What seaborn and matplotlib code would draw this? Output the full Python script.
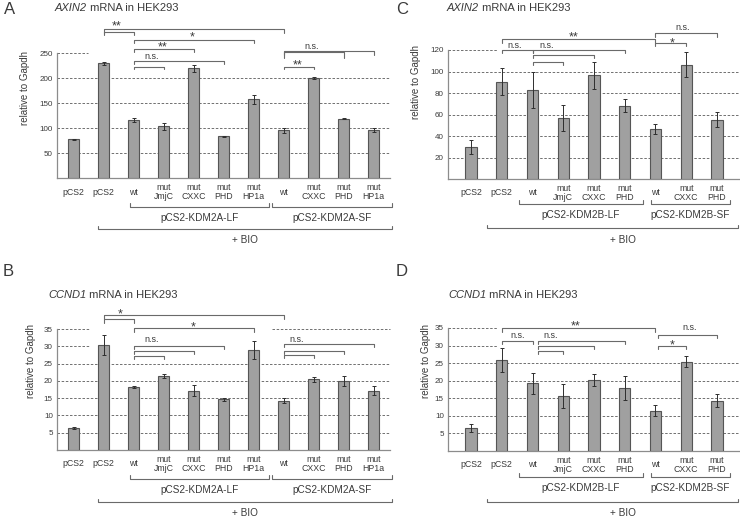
import numpy as np
import pandas as pd
import matplotlib
matplotlib.use("Agg")
import matplotlib.pyplot as plt
import seaborn as sns

sns.set_theme(style="white")
plt.rcParams['font.family'] = ['Liberation Sans', 'DejaVu Sans']

# ---------------- data ----------------
kdm2a_conditions = ["pCS2", "pCS2 +BIO", "LF wt", "LF mut JmjC", "LF mut CXXC", "LF mut PHD",
                    "LF mut HP1a", "SF wt", "SF mut CXXC", "SF mut PHD", "SF mut HP1a"]
kdm2a_ticklabels = ["pCS2", "pCS2", "wt", "mut\nJmjC", "mut\nCXXC", "mut\nPHD", "mut\nHP1a",
                    "wt", "mut\nCXXC", "mut\nPHD", "mut\nHP1a"]
axin2_kdm2a = [78, 230, 116, 104, 220, 84, 158, 96, 200, 119, 97]
axin2_kdm2a_err = [1, 3, 4, 7, 7, 1, 9, 5, 2, 1, 4]
ccnd1_kdm2a = [6.4, 30.4, 18.1, 21.4, 17.2, 14.7, 28.9, 14.2, 20.4, 20.0, 17.2]
ccnd1_kdm2a_err = [0.3, 2.8, 0.3, 0.6, 1.7, 0.4, 2.6, 0.7, 0.8, 1.5, 1.3]

kdm2b_conditions = ["pCS2", "pCS2 +BIO", "LF wt", "LF mut JmjC", "LF mut CXXC", "LF mut PHD",
                    "SF wt", "SF mut CXXC", "SF mut PHD"]
kdm2b_ticklabels = ["pCS2", "pCS2", "wt", "mut\nJmjC", "mut\nCXXC", "mut\nPHD",
                    "wt", "mut\nCXXC", "mut\nPHD"]
axin2_kdm2b = [30, 90.5, 83, 56.5, 96.5, 68, 46.5, 106.5, 55]
axin2_kdm2b_err = [6.5, 12.5, 17, 12, 12.5, 6, 4.5, 12, 7]
ccnd1_kdm2b = [6.5, 25.9, 19.3, 15.6, 20.2, 17.8, 11.5, 25.4, 14.3]
ccnd1_kdm2b_err = [1.2, 3.5, 3.0, 3.5, 1.8, 3.4, 1.6, 1.5, 1.9]

yticks_axin2_a = [50, 100, 150, 200, 250]
yticks_axin2_b = [20, 40, 60, 80, 100, 120]
yticks_ccnd1 = [5, 10, 15, 20, 25, 30, 35]

# ---------------- style ----------------
TEXT = '#3a3a3a'
BAR = '#a0a0a0'
EDGE = '#555555'
GRID = '#5a5a5a'
SPINE = '#8c8c8c'
BRK = '#6a6a6a'

W, H = 740, 517
fig = plt.figure(figsize=(W / 100, H / 100), dpi=100)


def axes_px(left, top, right, bottom):
    ax = fig.add_axes([left / W, 1 - bottom / H, (right - left) / W, (bottom - top) / H])
    ax._px = (left, top, right, bottom)
    return ax


def draw_panel(ax, conds, ticklabels, vals, errs, yticks, ymax, xpad, top_segments,
               ylab_dx, ylab_cy, tickpad):
    df = pd.DataFrame({"condition": conds, "value": vals})
    sns.barplot(data=df, x="condition", y="value", order=conds, ax=ax, width=0.37,
                color=BAR, saturation=1, edgecolor=EDGE, linewidth=0.8, errorbar=None, zorder=3)
    ax.errorbar(np.arange(len(conds)), vals, yerr=errs, fmt='none', ecolor='#2e2e2e',
                elinewidth=0.7, capsize=1.6, capthick=0.7, zorder=4)
    n = len(conds)
    ax.set_xlim(-xpad, n - 1 + xpad)
    ax.set_ylim(0, ymax)
    # dashed grid lines
    for yv in yticks:
        segs = top_segments.get(yv, [(0, 1)])
        for a, b in segs:
            ax.plot([a, b], [yv, yv], transform=ax.get_yaxis_transform(), color=GRID,
                    lw=0.6, ls=(0, (3, 2)), zorder=1, clip_on=False)
    for s in ['top', 'right']:
        ax.spines[s].set_visible(False)
    for s in ['left', 'bottom']:
        ax.spines[s].set_color(SPINE)
        ax.spines[s].set_linewidth(0.9)
    ax.set_yticks(yticks)
    ax.set_yticklabels([str(t) for t in yticks], fontsize=5.8, color=TEXT)
    ax.tick_params(axis='y', length=0, pad=3)
    ax.set_xticks(range(n))
    ax.set_xticklabels(ticklabels, fontsize=6.3, color=TEXT, linespacing=1.05, va='center')
    ax.tick_params(axis='x', length=0, pad=tickpad)
    ax.set_xlabel('')
    ax.set_ylabel('relative to Gapdh', fontsize=7, color=TEXT)
    l, t, r, b = ax._px
    ax.yaxis.set_label_coords(ylab_dx / (r - l), (b - ylab_cy) / (b - t))


def ya(ax, dy):
    """pixel offset above top of axes -> axes fraction"""
    l, t, r, b = ax._px
    return 1 + dy / (b - t)


def yb(ax, dy):
    """pixel offset below the bottom of axes -> axes fraction"""
    l, t, r, b = ax._px
    return -dy / (b - t)


def bracket(ax, x1, x2, y, dl, dr):
    tr = ax.get_xaxis_transform()
    ax.plot([x1, x1, x2, x2], [ya(ax, y - dl), ya(ax, y), ya(ax, y), ya(ax, y - dr)],
            transform=tr, color=BRK, lw=0.8, clip_on=False, zorder=5)


def sig(ax, x, y, s):
    fs = 9 if '*' in s else 6.5
    ax.text(x, ya(ax, y), s, transform=ax.get_xaxis_transform(), ha='center', va='baseline',
            fontsize=fs, color=TEXT, clip_on=False)


def group(ax, x1, x2, dy, tick, label, ldy, lx=None, fs=7.2):
    tr = ax.get_xaxis_transform()
    ax.plot([x1, x1, x2, x2], [yb(ax, dy - tick), yb(ax, dy), yb(ax, dy), yb(ax, dy - tick)],
            transform=tr, color=BRK, lw=0.8, clip_on=False)
    if lx is None:
        lx = (x1 + x2) / 2
    ax.text(lx, yb(ax, ldy), label, transform=tr, ha='center', va='center', fontsize=fs,
            color=TEXT, clip_on=False)


# ---------------- panel A ----------------
axA = axes_px(57, 53, 390, 178.3)
draw_panel(axA, kdm2a_conditions, kdm2a_ticklabels, axin2_kdm2a, axin2_kdm2a_err,
           yticks_axin2_a, 250, 0.55, {250: [(0, 31 / 333)]}, -27, 88, 10)
bracket(axA, 1, 7, 24, 4, 4)
bracket(axA, 1, 2, 21, 3, 3)
sig(axA, 1.45, 24, "**")
bracket(axA, 2, 6, 13, 3, 3)
sig(axA, 3.95, 13, "*")
bracket(axA, 2, 4, 4, 3, 3)
sig(axA, 2.98, 3, "**")
bracket(axA, 2, 5, -8, 3, 3)
bracket(axA, 2, 3, -14, 2, 2)
sig(axA, 2.62, -5.5, "n.s.")
bracket(axA, 7, 10, 2, 4, 4)
bracket(axA, 7, 9, 1, 6, 6)
sig(axA, 7.95, 4.5, "n.s.")
bracket(axA, 7, 8, -14, 2, 2)
sig(axA, 7.48, -15, "**")
group(axA, 1.88, 6.52, 28.7, 4, "pCS2-KDM2A-LF", 40)
group(axA, 6.62, 10.6, 28.7, 4, "pCS2-KDM2A-SF", 40)
group(axA, 0.82, 10.6, 51, 3, "+ BIO", 62)

# ---------------- panel B ----------------
axB = axes_px(57, 329, 390, 450)
draw_panel(axB, kdm2a_conditions, kdm2a_ticklabels, ccnd1_kdm2a, ccnd1_kdm2a_err,
           yticks_ccnd1, 35, 0.55, {35: [(0, 33 / 333), (215 / 333, 1)], 30: [(0, 33 / 333)]},
           -21, 361, 10)
bracket(axB, 1, 7, 14, 4, 4)
bracket(axB, 1, 2, 10, 4, 4)
sig(axB, 1.55, 12, "*")
bracket(axB, 2, 6, 1, 4, 4)
sig(axB, 3.98, -1, "*")
bracket(axB, 2, 5, -17, 3, 3)
bracket(axB, 2, 4, -22, 3, 3)
bracket(axB, 2, 3, -27, 3, 3)
sig(axB, 2.6, -13.5, "n.s.")
bracket(axB, 7, 10, -15, 3, 3)
bracket(axB, 7, 9, -22, 3, 3)
bracket(axB, 7, 8, -26, 3, 3)
sig(axB, 7.45, -13.5, "n.s.")
group(axB, 1.88, 6.52, 29, 4, "pCS2-KDM2A-LF", 40)
group(axB, 6.62, 10.6, 29, 4, "pCS2-KDM2A-SF", 40)
group(axB, 0.82, 10.6, 52, 3, "+ BIO", 63)

# ---------------- panel C ----------------
axC = axes_px(448, 50, 740, 179)
draw_panel(axC, kdm2b_conditions, kdm2b_ticklabels, axin2_kdm2b, axin2_kdm2b_err,
           yticks_axin2_b, 120, 0.75, {120: [(0, 50 / 292)]}, -27, 82, 10)
bracket(axC, 1, 6, 11, 4, 4)
sig(axC, 3.33, 10, "**")
bracket(axC, 1, 2, 0, 3, 3)
sig(axC, 1.43, 2.5, "n.s.")
bracket(axC, 2, 5, 0, 3, 3)
bracket(axC, 2, 4, -5, 3, 3)
bracket(axC, 2, 3, -12, 3, 3)
sig(axC, 2.47, 2.5, "n.s.")
bracket(axC, 6, 8, 17, 4, 4)
sig(axC, 6.9, 19.5, "n.s.")
bracket(axC, 6, 7, 7, 3, 3)
sig(axC, 6.55, 4, "*")
group(axC, 1.56, 5.59, 25, 4, "pCS2-KDM2B-LF", 36)
group(axC, 5.85, 8.42, 25, 4, "pCS2-KDM2B-SF", 36)
group(axC, 0.52, 8.68, 49, 3, "+ BIO", 61, lx=4.94)

# ---------------- panel D ----------------
axD = axes_px(448, 328, 740, 451)
draw_panel(axD, kdm2b_conditions, kdm2b_ticklabels, ccnd1_kdm2b, ccnd1_kdm2b_err,
           yticks_ccnd1, 35, 0.75, {35: [(0, 50 / 292)], 30: [(0, 50 / 292)]}, -17, 361, 10)
bracket(axD, 1, 6, 0, 4, 4)
sig(axD, 3.4, -1, "**")
bracket(axD, 1, 2, -13, 3, 3)
sig(axD, 1.5, -10.5, "n.s.")
bracket(axD, 2.18, 5, -13, 3, 3)
bracket(axD, 2.18, 4, -18, 3, 3)
bracket(axD, 2.18, 3, -23, 3, 3)
sig(axD, 2.6, -10.5, "n.s.")
bracket(axD, 6.08, 8, -7, 3, 3)
sig(axD, 7.1, -2.5, "n.s.")
bracket(axD, 6.08, 7, -18, 3, 3)
sig(axD, 6.55, -20, "*")
group(axD, 1.56, 5.59, 26, 4, "pCS2-KDM2B-LF", 37)
group(axD, 5.85, 8.42, 26, 4, "pCS2-KDM2B-SF", 37)
group(axD, 0.52, 8.68, 51, 3, "+ BIO", 62, lx=4.94)

# ---------------- titles and panel letters ----------------
renderer = fig.canvas.get_renderer()


def title(x, y, gene, rest):
    t1 = fig.text(x / W, 1 - y / H, gene, fontsize=8, color=TEXT, va='center', ha='left',
                  style='italic')
    bb = t1.get_window_extent(renderer)
    fig.text(bb.x1 / W, 1 - y / H, rest, fontsize=8, color=TEXT, va='center', ha='left')


title(55, 8, "AXIN2", " mRNA in HEK293")
title(48, 295, "CCND1", " mRNA in HEK293")
title(447, 8, "AXIN2", " mRNA in HEK293")
title(448, 295, "CCND1", " mRNA in HEK293")
for x, y, s in [(4, 9, "A"), (3, 272, "B"), (396, 9, "C"), (396, 272, "D")]:
    fig.text(x / W, 1 - y / H, s, fontsize=12, color=TEXT, va='center', ha='left')

fig.savefig("out.png", dpi=100)
